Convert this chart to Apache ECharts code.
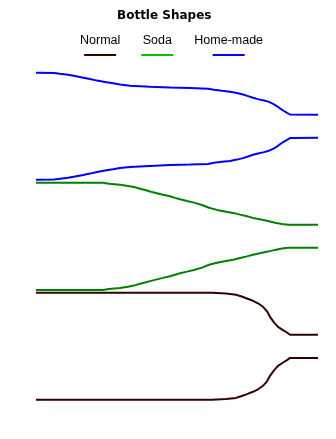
<!DOCTYPE html>
<html>
<head>
<meta charset="utf-8">
<script src="https://cdn.jsdelivr.net/npm/echarts@6/dist/echarts.min.js"></script>
<style>
  html, body { margin: 0; padding: 0; background: #ffffff; }
  #chart { width: 336px; height: 439px; }
</style>
</head>
<body>
<div id="chart"></div>
<script>
// Bottle profiles: distance along the bottle (mm, base to mouth) and radius (mm)
const bottleNames = ['Normal', 'Soda', 'Home-made'];

const normalX = [0, 176, 190, 200, 205, 211, 217, 222, 227, 231, 234, 238, 242, 247, 251, 254, 282];
const normalR = [53.5, 53.5, 52.7, 51.6, 50, 47.8, 45.5, 43, 39.5, 35, 29.5, 24, 19.5, 16.2, 13.8, 11.6, 11.6];

const sodaX = [0, 67, 73, 84, 92, 98, 104, 110, 114, 120, 127, 134, 139, 144, 151, 158, 166, 173, 181, 190, 197, 204, 210, 217, 225, 232, 239, 246, 252, 282];
const sodaR = [53.6, 53.6, 52.6, 51.6, 50.4, 49.3, 47.5, 46, 44.8, 43.3, 41.6, 40, 38.4, 37, 35.3, 33.7, 31.3, 28.5, 26.4, 24.6, 23.4, 21.7, 20.3, 18.4, 16.8, 15.3, 13.6, 12.3, 11.5, 11.5];

const homeX = [0, 18, 24, 32, 39, 46, 54, 61, 69, 77, 84, 94, 114, 134, 154, 172, 178, 186, 194, 201, 207, 212, 217, 222, 228, 233, 238, 242, 245, 248, 251, 254, 256, 282];
const homeR = [53.5, 53.3, 52.5, 51.5, 50.3, 48.9, 47.3, 45.7, 44.2, 43.0, 41.7, 40.6, 39.6, 38.7, 38.2, 37.6, 36.5, 35.5, 34.6, 33.3, 31.8, 30.2, 28.5, 27.2, 25.8, 24.4, 22, 19.5, 17.2, 15.3, 13.5, 11.8, 11.5, 11.5];

// Each bottle is drawn around its own centre line, stacked one above the other
const bottleAxis = [0, 110, 220];
const lineColors = ['#330000', '#008000', '#0000ff'];
const legendColors = ['#330000', '#00c000', '#0000ff'];

const profiles = [[normalX, normalR], [sodaX, sodaR], [homeX, homeR]];

const series = [];
profiles.forEach(function (p, i) {
  const xs = p[0], rs = p[1];
  [1, -1].forEach(function (side) {
    series.push({
      name: bottleNames[i],
      type: 'line',
      data: xs.map(function (x, k) { return [x, bottleAxis[i] + side * rs[k]]; }),
      showSymbol: false,
      symbol: 'none',
      smooth: false,
      color: lineColors[i],
      lineStyle: { width: 2, color: lineColors[i] },
      animation: false
    });
  });
});

// Legend entries: name on top, a short colour bar underneath
const rich = {
  t: { fontFamily: "'Liberation Sans', Arial, sans-serif", fontSize: 12.5, color: '#000', align: 'center', lineHeight: 14 }
};
legendColors.forEach(function (c, i) {
  rich['l' + i] = { backgroundColor: c, width: 32, height: 2, lineHeight: 14, align: 'center' };
});

const chart = echarts.init(document.getElementById('chart'), null, { renderer: 'canvas' });
chart.setOption({
  backgroundColor: '#ffffff',
  animation: false,
  title: {
    text: 'Bottle Shapes',
    left: 117,
    top: 10,
    padding: 0,
    textStyle: { fontFamily: "'DejaVu Sans', sans-serif", fontWeight: 'bold', fontSize: 12, color: '#000' }
  },
  legend: {
    data: bottleNames,
    left: 74,
    top: 34.5,
    padding: 0,
    itemGap: 15,
    itemWidth: 0,
    itemHeight: 0,
    itemStyle: { opacity: 0 },
    lineStyle: { opacity: 0 },
    selectedMode: false,
    formatter: function (name) {
      return '{t|' + name + '}\n{l' + bottleNames.indexOf(name) + '|}';
    },
    textStyle: { rich: rich }
  },
  grid: { left: 36, width: 282, top: 46.3, height: 380 },
  xAxis: { type: 'value', min: 0, max: 282, show: false },
  yAxis: { type: 'value', min: -80, max: 300, show: false },
  series: series
});
</script>
</body>
</html>
